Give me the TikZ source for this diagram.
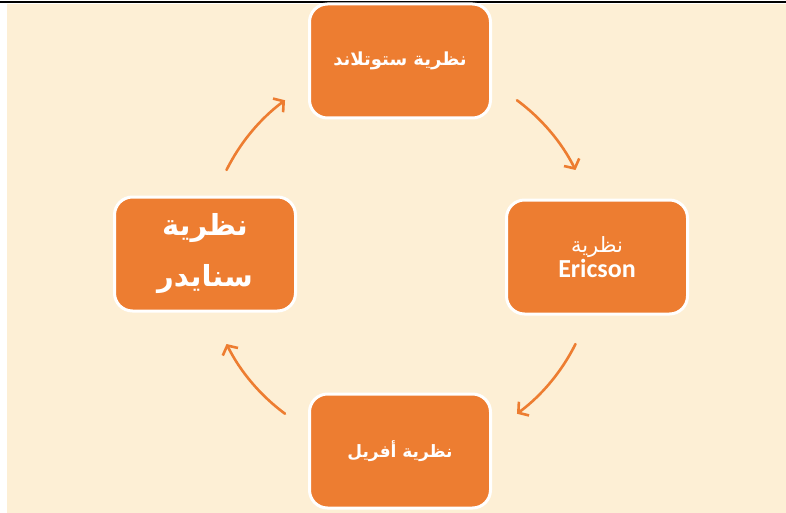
\documentclass[tikz,border=0pt]{standalone}
\usepackage{fontspec}
\setmainfont{DejaVu Sans}
\newfontfamily\arabicfont[Script=Arabic]{DejaVu Sans}
\newfontfamily\latinfont{Carlito}
\TeXXeTstate=1
\usetikzlibrary{arrows.meta,calc}
\definecolor{bgbeige}{RGB}{253,239,213}
\definecolor{boxorange}{RGB}{237,125,49}
\tikzset{
  cyclebox/.style={rectangle, rounded corners=18pt, fill=boxorange, draw=white,
    line width=3pt, minimum width=181pt, minimum height=114pt, text=white,
    align=center, inner sep=2pt},
  cyclearrow/.style={draw=boxorange, line width=2.6pt, line cap=round,
    -{Straight Barb[length=7pt,width=17pt,line width=2.6pt]}}
}
\begin{document}
\begin{tikzpicture}[x=1pt,y=-1pt]
\useasboundingbox (0,0) rectangle (786,513);
\fill[white] (0,0) rectangle (786,513);
\fill[bgbeige] (7,4) rectangle (786,513);
\draw[line width=2pt] (0,2) -- (786,2);
\coordinate (c) at (401,257);
% boxes
\node[cyclebox, font=\arabicfont\bfseries\fontsize{18}{22}\selectfont] (top) at (400,61)
  {\beginR نظرية ستوتلاند\endR};
\node[cyclebox] (right) at (597,257)
  {\arabicfont\fontsize{21}{24}\selectfont\beginR نظرية\endR\\[1pt]
   \latinfont\bfseries\fontsize{26}{28}\selectfont Ericson};
\node[cyclebox, font=\arabicfont\bfseries\fontsize{29}{51}\selectfont] (left) at (205,254)
  {\beginR نظرية\endR\\ \beginR سنايدر\endR};
\node[cyclebox, font=\arabicfont\bfseries\fontsize{17}{20}\selectfont] (bottom) at (400,451)
  {\beginR نظرية أفريل\endR};
% arrow end points on a circle around the centre
\coordinate (a1) at ($(c)+(-153.5:195)$);
\coordinate (a2) at ($(c)+(-53.5:195)$);
\coordinate (a3) at ($(c)+(26.5:195)$);
\coordinate (a4) at ($(c)+(126.5:195)$);
\draw[cyclearrow] (a1) arc[start angle=-153.5, end angle=-126.5, radius=195];
\draw[cyclearrow] (a2) arc[start angle=-53.5, end angle=-26.5, radius=195];
\draw[cyclearrow] (a3) arc[start angle=26.5, end angle=53.5, radius=195];
\draw[cyclearrow] (a4) arc[start angle=126.5, end angle=153.5, radius=195];
\end{tikzpicture}
\end{document}
